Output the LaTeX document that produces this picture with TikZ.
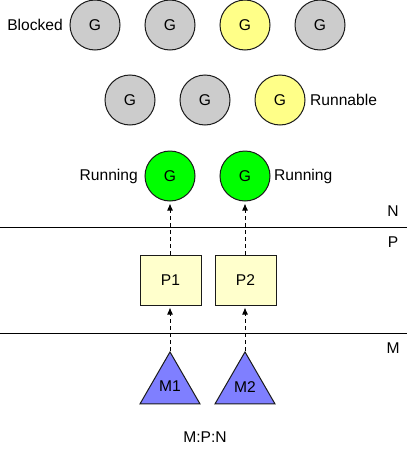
\documentclass[tikz,border=0pt]{standalone}
\usepackage{fontspec}
\setmainfont{Liberation Sans}
\usetikzlibrary{shapes.geometric,arrows.meta}
\definecolor{gblock}{HTML}{CCCCCC}
\definecolor{grun}{HTML}{FFFF88}
\definecolor{ggreen}{HTML}{00FF00}
\definecolor{pbox}{HTML}{FFFFCC}
\definecolor{mtri}{HTML}{7F7FFF}
\definecolor{edge}{HTML}{1A1A1A}
\tikzset{
  txt/.style={font=\fontsize{15.6}{18}\selectfont, inner sep=0pt},
  gnode/.style={circle, draw=edge, line width=1pt, minimum size=50pt, inner sep=0pt, txt},
  pnode/.style={rectangle, draw=edge, line width=1pt, fill=pbox, minimum width=61pt, minimum height=50pt, inner sep=0pt, txt},
  mnode/.style={regular polygon, regular polygon sides=3, draw=edge, line width=1pt, fill=mtri, minimum size=69.3pt, inner sep=0pt, txt},
  link/.style={dashed, dash pattern=on 4pt off 3pt, line width=1pt, draw=black, -{Latex[length=7pt,width=6pt]}, shorten >=2pt},
  sep/.style={line width=1pt, draw=black}
}
\begin{document}
\begin{tikzpicture}[x=1pt,y=-1pt]
\useasboundingbox (0,0) rectangle (407,450);
% top row
\node[txt] (blk) at (35,25) {Blocked};
\node[gnode, fill=gblock] (g1) at (95,25) {G};
\node[gnode, fill=gblock] (g2) at (170,25) {G};
\node[gnode, fill=grun] (g3) at (245,25) {G};
\node[gnode, fill=gblock] (g4) at (320,25) {G};
% second row
\node[gnode, fill=gblock] (g5) at (130,100) {G};
\node[gnode, fill=gblock] (g6) at (205,100) {G};
\node[gnode, fill=grun] (g7) at (280,100) {G};
\node[txt, anchor=west] (rnb) at (310,100) {Runnable};
% running
\node[gnode, fill=ggreen] (r1) at (170,176) {G};
\node[gnode, fill=ggreen] (r2) at (245,176) {G};
\node[txt, anchor=east] (rl) at (138,176) {Running};
\node[txt, anchor=west] (rr) at (274,176) {Running};
% separators
\coordinate (l1a) at (0,227);
\coordinate (l1b) at (407,227);
\coordinate (l2a) at (0,333);
\coordinate (l2b) at (407,333);
\draw[sep] (l1a) -- (l1b);
\draw[sep] (l2a) -- (l2b);
\node[txt] (lN) at (393,211) {N};
\node[txt] (lP) at (393,242) {P};
\node[txt] (lM) at (393,348) {M};
% P
\node[pnode] (p1) at (170.5,280) {P1};
\node[pnode] (p2) at (245.5,280) {P2};
% M
\node[mnode] (m1) at (170,386.6) {M1};
\node[mnode] (m2) at (245,386.6) {M2};
\node[txt] (mpn) at (205,437) {M:P:N};
% links
\draw[link] (p1.north -| r1.south) -- (r1.south);
\draw[link] (p2.north -| r2.south) -- (r2.south);
\draw[link] (m1.corner 1) -- (m1.corner 1 |- p1.south);
\draw[link] (m2.corner 1) -- (m2.corner 1 |- p2.south);
\end{tikzpicture}
\end{document}
